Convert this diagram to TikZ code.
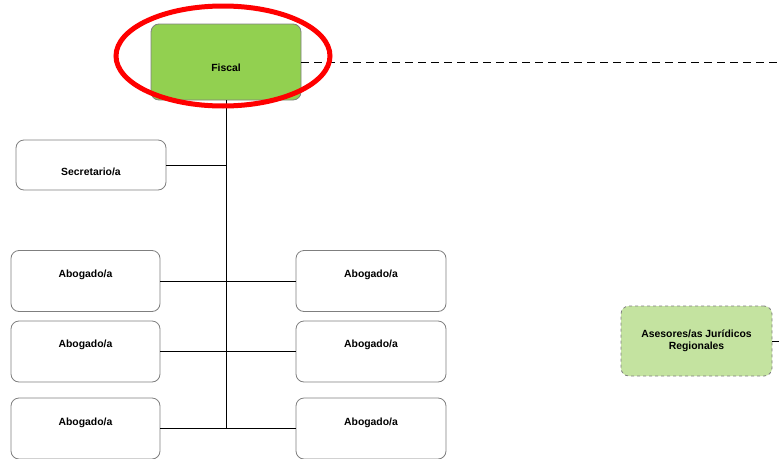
\documentclass[tikz,border=0pt]{standalone}
\usepackage{fontspec}
\setmainfont{Liberation Sans}
\usetikzlibrary{positioning,shapes.geometric}
\definecolor{fiscalgreen}{HTML}{92D050}
\definecolor{lightgreen}{HTML}{C4E3A0}
\definecolor{boxgray}{HTML}{7F7F7F}
\begin{document}
\begin{tikzpicture}[x=1pt,y=-1pt,
  every node/.style={font=\fontsize{10.4}{12.5}\selectfont\bfseries},
  box/.style={draw=boxgray,line width=0.8pt,rounded corners=8pt,fill=white,inner sep=0pt},
  conn/.style={draw=black,line width=1pt},
  dconn/.style={draw=black,line width=1pt,dash pattern=on 8pt off 5pt}]
\useasboundingbox (0,0) rectangle (779,458);
% nodes
\node[box,fill=fiscalgreen,minimum width=150pt,minimum height=76pt,
  label={[yshift=-6pt]center:Fiscal}] (fiscal) at (226,62) {};
\node[box,minimum width=150pt,minimum height=50pt,
  label={[yshift=-7pt]center:Secretario/a}] (sec) at (91,165) {};
\node[box,minimum width=149pt,minimum height=61pt,
  label={[yshift=6.5pt]center:Abogado/a}] (abL1) at (85.5,281) {};
\node[box,minimum width=149pt,minimum height=61pt,
  label={[yshift=6.5pt]center:Abogado/a}] (abL2) at (85.5,351.5) {};
\node[box,minimum width=149pt,minimum height=61pt,
  label={[yshift=6pt]center:Abogado/a}] (abL3) at (85.5,428.5) {};
\node[box,minimum width=150pt,minimum height=61pt,
  label={[yshift=6.5pt]center:Abogado/a}] (abR1) at (371,281) {};
\node[box,minimum width=150pt,minimum height=61pt,
  label={[yshift=6.5pt]center:Abogado/a}] (abR2) at (371,351.5) {};
\node[box,minimum width=150pt,minimum height=61pt,
  label={[yshift=6pt]center:Abogado/a}] (abR3) at (371,428.5) {};
\node[box,fill=lightgreen,dashed,minimum width=151pt,minimum height=70pt,
  align=center] (ases) at (696.5,341) {Asesores/as Jurídicos\\Regionales};
\coordinate (dashend) at (779,62);
\coordinate (asesend) at (779,341);
% connectors
\draw[conn] (fiscal.south) -- (fiscal.south |- abL3.east);
\draw[conn] (sec.east) -- (sec.east -| fiscal.south);
\draw[conn] (abL1.east) -- (abR1.west);
\draw[conn] (abL2.east) -- (abR2.west);
\draw[conn] (abL3.east) -- (abR3.west);
\draw[dconn] (fiscal.east) -- (dashend);
\draw[conn] (ases.east) -- (asesend);
% red highlight
\node[draw=red,line width=5pt,ellipse,minimum width=214pt,minimum height=100pt,inner sep=0pt] (hl) at (223,56) {};
\end{tikzpicture}
\end{document}
